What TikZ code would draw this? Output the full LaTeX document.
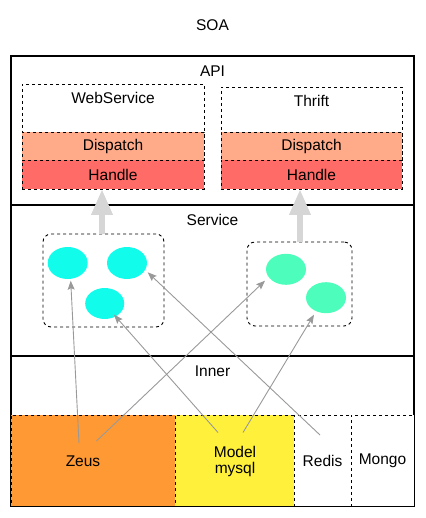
\documentclass[tikz,border=0pt]{standalone}
\usepackage{fontspec}
\setmainfont{Liberation Sans}
\usetikzlibrary{arrows.meta,calc,shapes.geometric}
\definecolor{dispc}{HTML}{FFAA88}
\definecolor{handc}{HTML}{FF6B66}
\definecolor{cyanc}{HTML}{12FCEC}
\definecolor{greenc}{HTML}{4DFDBB}
\definecolor{zeusc}{HTML}{FF9933}
\definecolor{modelc}{HTML}{FFF03C}
\definecolor{bigarrow}{HTML}{D6D6D6}
\definecolor{thinarrow}{HTML}{999999}
\begin{document}
\begin{tikzpicture}[x=1pt,y=-1pt,
  every node/.style={font=\fontsize{15.5}{18}\selectfont, inner sep=0pt, outer sep=0pt},
  layerbox/.style={draw=black, line width=1.8pt, rectangle},
  dbox/.style={draw=black, line width=0.9pt, dash pattern=on 3pt off 3pt, rectangle},
  svcbox/.style={dbox, rounded corners=8pt},
  svcell/.style={ellipse, draw=none},
  uparrow/.style={draw=bigarrow, line width=6.5pt, -{Triangle[length=26pt,width=20pt]}},
  link/.style={draw=thinarrow, line width=0.9pt, -{Stealth[length=9pt,width=7pt,inset=1.5pt]}}
]
\useasboundingbox (0,0) rectangle (425,518);

\node (soa) at (212.5,25) {SOA};

% layers
\node[layerbox, minimum width=403pt, minimum height=149pt] (api) at (212.5,130.5) {};
\node[layerbox, minimum width=403pt, minimum height=151pt] (svc) at (212.5,280.5) {};
\node[layerbox, minimum width=403pt, minimum height=150pt] (inn) at (212.5,431) {};
\node (apit) at (212.5,71) {API};
\node (svct) at (212.5,220) {Service};
\node (innt) at (212.5,371) {Inner};

% API boxes
\node[dbox, minimum width=182pt, minimum height=105pt] (ws) at (113,136.5) {};
\node (wst) at (113,98) {WebService};
\node[dbox, fill=dispc, minimum width=182pt, minimum height=28pt] (wsd) at (113,146) {Dispatch};
\node[dbox, fill=handc, minimum width=182pt, minimum height=29pt] (wsh) at (113,174.5) {Handle};

\node[dbox, minimum width=181pt, minimum height=102pt] (th) at (311.5,138) {};
\node (tht) at (311.5,101) {Thrift};
\node[dbox, fill=dispc, minimum width=181pt, minimum height=28pt] (thd) at (311.5,146) {Dispatch};
\node[dbox, fill=handc, minimum width=181pt, minimum height=29pt] (thh) at (311.5,174.5) {Handle};

% service groups
\node[svcbox, minimum width=121pt, minimum height=93pt] (sb1) at (103.5,280.5) {};
\node[svcbox, minimum width=105pt, minimum height=84pt] (sb2) at (299.5,284) {};
\node[svcell, fill=cyanc, minimum width=40pt, minimum height=32pt] (e1) at (67.7,263) {};
\node[svcell, fill=cyanc, minimum width=40pt, minimum height=32pt] (e2) at (127,263) {};
\node[svcell, fill=cyanc, minimum width=39pt, minimum height=31pt] (e3) at (104.7,303.5) {};
\node[svcell, fill=greenc, minimum width=40pt, minimum height=31pt] (e4) at (286,269.3) {};
\node[svcell, fill=greenc, minimum width=40pt, minimum height=31pt] (e5) at (326,297.7) {};

% big arrows
\draw[uparrow] ([xshift=-1.5pt]sb1.north) -- ([xshift=-11pt]wsh.south);
\draw[uparrow] ([xshift=0.5pt]sb2.north) -- ([xshift=-11.5pt]thh.south);

% inner stores
\node[dbox, fill=zeusc, minimum width=164pt, minimum height=91pt] (zeus) at (93,460.5) {};
\node[dbox, fill=modelc, minimum width=119pt, minimum height=91pt] (model) at (234.5,460.5) {};
\node[dbox, fill=white, minimum width=57pt, minimum height=91pt] (redis) at (322.5,460.5) {};
\node[dbox, fill=white, minimum width=63pt, minimum height=91pt] (mongo) at (382.5,460.5) {};
\node (zeust) at (83,461) {Zeus};
\node[align=center, font=\fontsize{15.5}{16}\selectfont] (modelt) at (235,461) {Model\\mysql};
\node (redist) at (322.5,461) {Redis};
\node (mongot) at (382.5,461) {Mongo};

% links
\draw[link] ($(zeus.center)+(-14,-17.5)$) -- ($(e1.center)+(3,17.7)$);
\draw[link] ($(zeus.center)+(3.5,-19.5)$) -- ($(e4.center)+(-21,11.4)$);
\draw[link] ($(model.center)+(-16.5,-28)$) -- ($(e3.center)+(9.3,11.2)$);
\draw[link] ($(model.center)+(8.5,-28)$) -- ($(e5.center)+(-12,17)$);
\draw[link] ($(redis.center)+(-2.5,-25.5)$) -- ($(e2.center)+(20.7,9.3)$);
\end{tikzpicture}
\end{document}
